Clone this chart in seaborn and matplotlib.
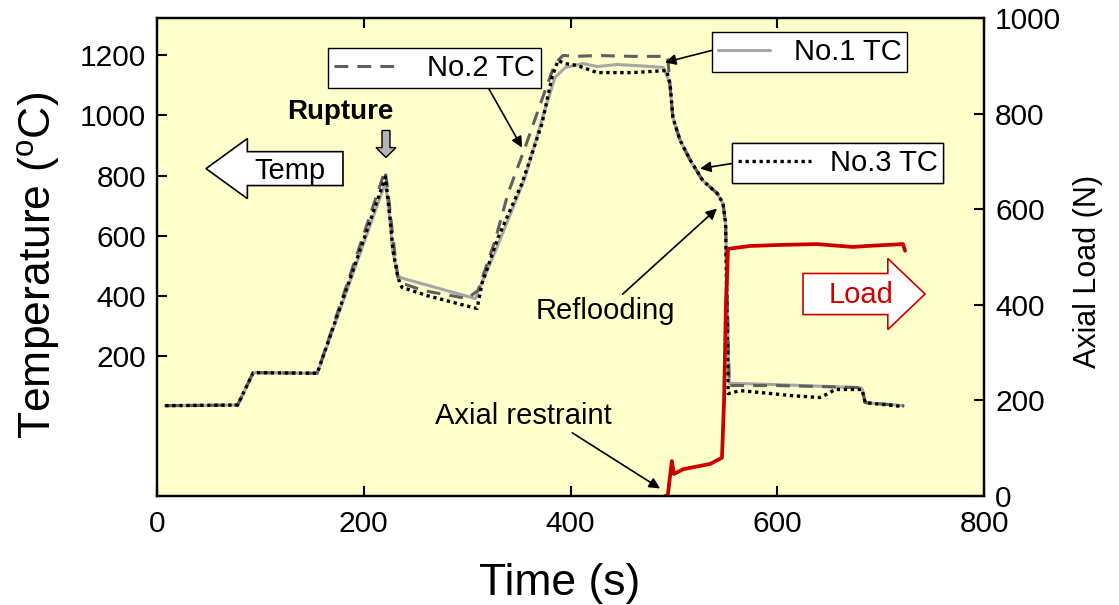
import numpy as np
import pandas as pd
import matplotlib
matplotlib.use("Agg")
import matplotlib.pyplot as plt
from matplotlib.patches import FancyArrow
import seaborn as sns

# Datos (tiempo en s, temperatura en ºC, carga en N)
tc1_time = [8, 78, 93, 155, 221, 225, 228, 233, 238, 262, 290, 308, 311, 330, 356, 375, 385, 395,
            412, 426, 445, 470, 490, 496, 499, 506, 516, 528, 542, 547.5, 550, 553.5, 560,
            600, 640, 680, 682, 685, 722]
tc1_temp = [33, 35, 143, 141, 777, 660, 550, 465, 457, 434, 407, 390, 417, 570, 793, 1017, 1127, 1160,
            1173, 1163, 1170, 1165, 1160, 1107, 993, 917, 850, 783, 740, 707, 640, 107, 107,
            103, 98, 93, 90, 43, 33]

tc2_time = [8, 78, 93, 155, 220.6, 223, 228, 233, 238, 257, 300, 310.5, 327, 339.5, 356, 372, 385,
            392.7, 406, 425, 460, 494, 496, 499, 506, 516, 528, 542, 547.5, 550, 553.5, 560,
            600, 640, 680, 682, 685, 722]
tc2_temp = [33, 35, 143, 141, 817, 760, 600, 460, 440, 417, 390, 417, 583, 740, 893, 1050, 1173,
            1200, 1197, 1200, 1197, 1197, 1107, 993, 917, 850, 783, 740, 707, 640, 100, 100,
            100, 97, 93, 90, 43, 33]

tc3_time = [8, 78, 93, 155, 221, 225.4, 228.3, 233, 237, 261, 305.7, 309.6, 314.4, 329.9, 353,
            372.4, 382, 387.9, 394.7, 406.3, 425.6, 460.5, 493.3, 494.5, 496.3, 499, 506, 516,
            528, 542, 547.5, 550, 552.5, 564, 583, 612, 641, 649, 656, 680, 682, 685, 722]
tc3_temp = [33, 35, 143, 141, 795, 660, 550, 460, 427, 400, 360, 357, 440, 593, 773,
            973, 1127, 1183, 1173, 1167, 1143, 1143, 1150, 1127, 1107, 993, 917, 850,
            783, 740, 707, 640, 73, 83, 77, 67, 60, 73, 87, 87, 87, 43, 30]

load_time = [491.4, 494, 498, 500, 509, 535, 546.5, 548.5, 550.4, 552.4, 573.6, 600, 638, 673,
             687, 721.6, 723.6]
load_val = [0, 0, 73, 46, 56, 67, 80, 199, 408, 517, 523, 525, 527, 521, 523, 527, 513]

x_ticks = [0, 200, 400, 600, 800]
temp_ticks = [200, 400, 600, 800, 1000, 1200]
load_ticks = [0, 200, 400, 600, 800, 1000]

sns.set_style("ticks")
plt.rcParams['font.family'] = ['Liberation Sans', 'DejaVu Sans']
plt.rcParams['mathtext.fontset'] = 'custom'
plt.rcParams['mathtext.rm'] = 'Liberation Sans'
for k in ('text.color', 'axes.labelcolor', 'xtick.color', 'ytick.color', 'axes.edgecolor'):
    plt.rcParams[k] = 'black'

fig = plt.figure(figsize=(11.19, 6.05), dpi=100)
ax = fig.add_axes([0.1403, 0.1802, 0.7391, 0.7901])
ax.set_facecolor('#ffffcc')

tc1 = pd.DataFrame({"t": tc1_time, "T": tc1_temp})
tc2 = pd.DataFrame({"t": tc2_time, "T": tc2_temp})
tc3 = pd.DataFrame({"t": tc3_time, "T": tc3_temp})
load = pd.DataFrame({"t": load_time, "N": load_val})

sns.lineplot(data=tc1, x="t", y="T", ax=ax, color='#a6a6a6', lw=2.2, sort=False, estimator=None)
sns.lineplot(data=tc2, x="t", y="T", ax=ax, color='#5f5f5f', lw=2.2, linestyle=(0, (4.5, 3)),
             sort=False, estimator=None)
sns.lineplot(data=tc3, x="t", y="T", ax=ax, color='black', lw=2.4, linestyle=(0, (1, 1.1)),
             sort=False, estimator=None)
l1, l2, l3 = ax.get_lines()[:3]

ax.set_xlim(0, 800)
ax.set_ylim(-268, 1325)
ax.set_xticks(x_ticks)
ax.set_yticks(temp_ticks)

ax2 = ax.twinx()
sns.lineplot(data=load, x="t", y="N", ax=ax2, color='#cc0000', lw=2.7, sort=False, estimator=None)
ax2.set_ylim(0, 1000)
ax2.set_yticks(load_ticks)

for a in (ax, ax2):
    for s in a.spines.values():
        s.set_linewidth(1.6)
        s.set_color('black')
ax.tick_params(axis='both', direction='in', length=7, width=1.5, labelsize=21.5, pad=8)
ax.tick_params(axis='x', top=True, pad=10)
ax2.tick_params(axis='y', direction='in', length=7, width=1.5, labelsize=21.5, pad=8)

ax.set_xlabel("Time (s)", fontsize=32)
ax.set_ylabel(r"Temperature ($\mathregular{^o}$C)", fontsize=32)
ax2.set_ylabel("Axial Load (N)", fontsize=22)
ax.xaxis.set_label_coords(0.487, -0.14)
ax.yaxis.set_label_coords(-0.115, 0.483)
ax2.yaxis.set_label_coords(1.108, 0.469)

# Cajas de leyenda con flechas
def caja(handle, label, anchor, hl, tp):
    leg = ax.legend([handle], [label], loc='upper left', bbox_to_anchor=anchor, borderaxespad=0,
                    frameon=True, fancybox=False, edgecolor='black', framealpha=1, fontsize=21,
                    handlelength=hl, handletextpad=tp, borderpad=0.2)
    leg.get_frame().set_linewidth(1.0)
    ax.add_artist(leg)

caja(l2, "No.2 TC", (0.2068, 0.9372), 2.3, 0.9)
caja(l1, "No.1 TC", (0.671, 0.9707), 1.8, 0.8)
caja(l3, "No.3 TC", (0.695, 0.7385), 2.5, 0.65)

flecha = dict(arrowstyle='-|>', color='black', lw=1.2, mutation_scale=16, shrinkA=0, shrinkB=0)
ax.annotate("", xy=(353.1, 893), xytext=(319.2, 1100), arrowprops=flecha)
ax.annotate("", xy=(491.4, 1177), xytext=(536.9, 1217), arrowprops=flecha)
ax.annotate("", xy=(525.3, 823), xytext=(556.2, 840), arrowprops=flecha)
ax.annotate("Reflooding", xy=(541.7, 690), xytext=(433.4, 347), fontsize=21,
            ha='center', va='center', arrowprops=dict(flecha, relpos=(0.6, 1.0)))
ax.annotate("Axial restraint", xy=(486.6, -243), xytext=(354, 0), fontsize=21,
            ha='center', va='center', arrowprops=dict(flecha, relpos=(0.75, 0.0)))

ax.text(177, 1010, "Rupture", fontsize=20, fontweight='bold', ha='center', va='center')
ax.add_patch(FancyArrow(221.5, 950, 0, -90, width=7.7, head_width=19.3, head_length=33,
                        length_includes_head=True, fc='#b4b4b4', ec='black', lw=1.0))

ax.add_patch(FancyArrow(179.9, 823, -132.5, 0, width=113, head_width=200, head_length=40,
                        length_includes_head=True, fc='white', ec='black', lw=1.2))
ax.text(128.7, 815, "Temp", fontsize=21, ha='center', va='center')

ax.add_patch(FancyArrow(624.9, 405, 118, 0, width=137, head_width=237, head_length=36,
                        length_includes_head=True, fc='white', ec='#cc0000', lw=1.2))
ax.text(681, 403, "Load", fontsize=21, color='#cc0000', ha='center', va='center')

plt.savefig("out.png", dpi=100)
